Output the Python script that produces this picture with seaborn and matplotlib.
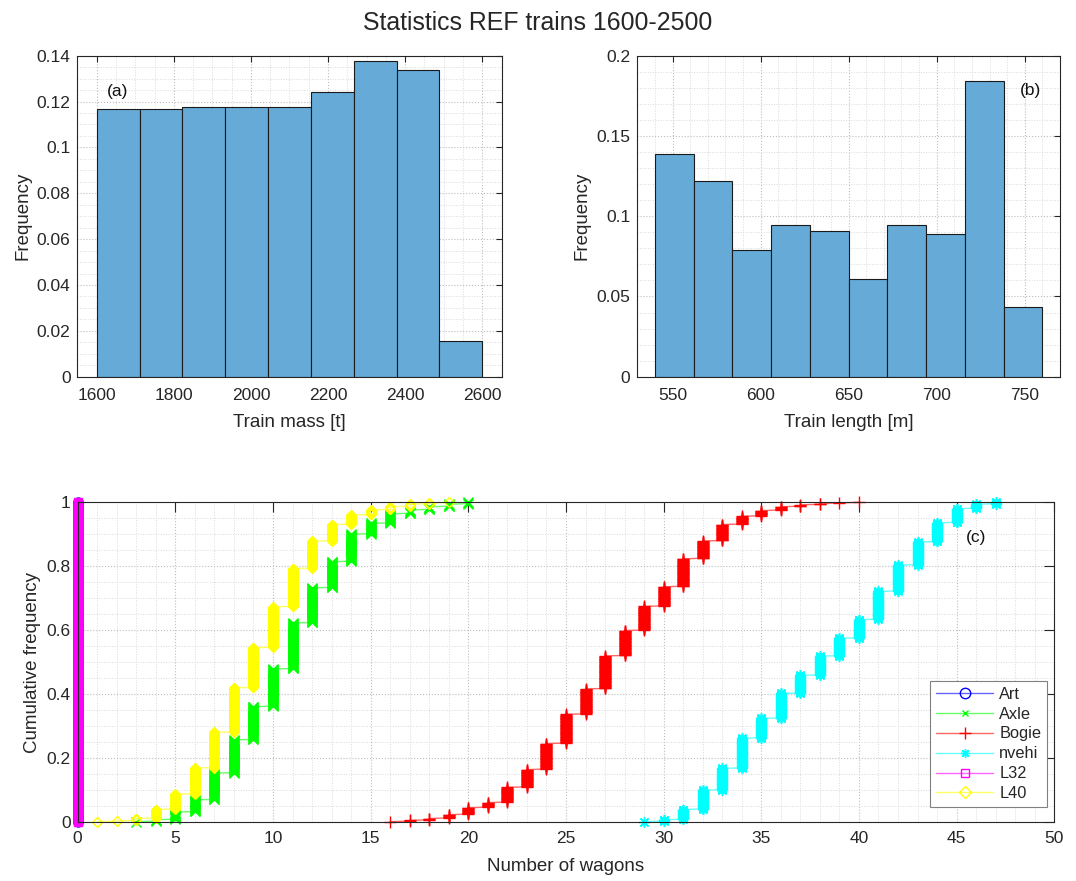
import numpy as np
import pandas as pd
import matplotlib
matplotlib.use("Agg")
import matplotlib.pyplot as plt
from matplotlib.lines import Line2D
from matplotlib.ticker import MultipleLocator, FormatStrFormatter
import seaborn as sns

# ---------------- data ----------------
# (a) train mass histogram: 9 equal bins between 1600 t and 2600 t
mass_edges = list(np.linspace(1600, 2600, 10))
mass_freq = [0.1167, 0.1167, 0.1175, 0.1175, 0.1175, 0.1240, 0.1375, 0.1336, 0.0156]

# (b) train length histogram: 10 bins of 22 m between 540 m and 760 m
length_edges = list(np.linspace(540, 760, 11))
length_freq = [0.1386, 0.1217, 0.0788, 0.0945, 0.0908, 0.0607, 0.0945, 0.0887, 0.1842, 0.0434]

# (c) cumulative frequency of the number of wagons per type
art_n = [0]
art_cdf = [1.0]

axle_n = list(range(3, 21))
axle_cdf = [0.002, 0.008, 0.033, 0.072, 0.156, 0.259, 0.363, 0.481, 0.624,
            0.734, 0.817, 0.903, 0.938, 0.967, 0.978, 0.987, 0.994, 1.0]

bogie_n = list(range(16, 41))
bogie_cdf = [0.002, 0.006, 0.0125, 0.024, 0.046, 0.061, 0.108, 0.163, 0.245,
             0.336, 0.417, 0.520, 0.600, 0.676, 0.738, 0.826, 0.882, 0.934,
             0.961, 0.978, 0.990, 0.995, 0.998, 0.999, 1.0]

nvehi_n = list(range(29, 48))
nvehi_cdf = [0.002, 0.009, 0.0415, 0.101, 0.169, 0.2625, 0.325, 0.403, 0.460,
             0.521, 0.578, 0.635, 0.723, 0.804, 0.877, 0.936, 0.981, 0.994, 1.0]

l32_n = [0]
l32_cdf = [1.0]

l40_n = list(range(1, 20))
l40_cdf = [0.002, 0.004, 0.012, 0.040, 0.088, 0.170, 0.283, 0.422, 0.547,
           0.674, 0.794, 0.880, 0.932, 0.963, 0.978, 0.988, 0.995, 0.998, 1.0]

n_trains = 500

series_names = ["Art", "Axle", "Bogie", "nvehi", "L32", "L40"]
series_data = [(art_n, art_cdf), (axle_n, axle_cdf), (bogie_n, bogie_cdf),
               (nvehi_n, nvehi_cdf), (l32_n, l32_cdf), (l40_n, l40_cdf)]


def ecdf_points(values, levels):
    """Expand cumulative levels into sorted observations and their ECDF."""
    counts = np.round(np.diff(np.concatenate([[0.0], levels])) * n_trains).astype(int)
    x = np.repeat(values, counts)
    y = np.arange(1, len(x) + 1) / len(x)
    return x, y


def lighten(hex_color, amount=0.4):
    rgb = np.array(matplotlib.colors.to_rgb(hex_color))
    return tuple(rgb + (1 - rgb) * amount)


# ---------------- style ----------------
sns.set_style("white")
plt.rcParams["font.family"] = ["Liberation Sans", "DejaVu Sans"]
dark = "#262626"
bar_face = "#66AAD7"

fig = plt.figure(figsize=(10.76, 8.81), dpi=100)
ax1 = fig.add_axes([0.0720, 0.5724, 0.3941, 0.3644])
ax2 = fig.add_axes([0.5923, 0.5724, 0.3928, 0.3644])
ax3 = fig.add_axes([0.0722, 0.0666, 0.9076, 0.3632])


def style_axes(ax, ticklen, xpad):
    ax.set_axisbelow(True)
    ax.grid(which="major", linestyle=":", color="#bdbdbd", linewidth=0.8)
    ax.grid(which="minor", linestyle=":", color="#dadada", linewidth=0.7)
    ax.tick_params(which="major", direction="in", top=True, right=True,
                   length=ticklen, width=0.8, color=dark, labelcolor=dark,
                   labelsize=12.5, pad=5)
    ax.tick_params(axis="x", which="major", pad=xpad)
    ax.tick_params(which="minor", length=0)
    for sp in ax.spines.values():
        sp.set_visible(True)
        sp.set_color(dark)
        sp.set_linewidth(0.8)
    ax.xaxis.set_major_formatter(FormatStrFormatter("%g"))
    ax.yaxis.set_major_formatter(FormatStrFormatter("%g"))


def draw_hist(ax, edges, freq):
    centers = [(a + b) / 2 for a, b in zip(edges[:-1], edges[1:])]
    df = pd.DataFrame({"center": centers, "freq": freq})
    sns.histplot(data=df, x="center", weights="freq", bins=edges, ax=ax,
                 color=bar_face, alpha=1, edgecolor="#1a1a1a", linewidth=0.8)


# (a) train mass
draw_hist(ax1, mass_edges, mass_freq)
ax1.set_xlim(1550, 2650)
ax1.set_ylim(0, 0.14)
ax1.xaxis.set_major_locator(MultipleLocator(200))
ax1.xaxis.set_minor_locator(MultipleLocator(50))
ax1.yaxis.set_major_locator(MultipleLocator(0.02))
ax1.yaxis.set_minor_locator(MultipleLocator(0.005))
style_axes(ax1, 4, 8)
ax1.set_xlabel("Train mass [t]", fontsize=13.5, color=dark, labelpad=8)
ax1.set_ylabel("Frequency", fontsize=13.5, color=dark)
ax1.text(1655, 0.1245, "(a)", fontsize=12.5, ha="center", va="center", color="#111111")

# (b) train length
draw_hist(ax2, length_edges, length_freq)
ax2.set_xlim(530, 770)
ax2.set_ylim(0, 0.2)
ax2.xaxis.set_major_locator(MultipleLocator(50))
ax2.xaxis.set_minor_locator(MultipleLocator(10))
ax2.yaxis.set_major_locator(MultipleLocator(0.05))
ax2.yaxis.set_minor_locator(MultipleLocator(0.01))
style_axes(ax2, 4, 8)
ax2.set_xlabel("Train length [m]", fontsize=13.5, color=dark, labelpad=8)
ax2.set_ylabel("Frequency", fontsize=13.5, color=dark)
ax2.text(753, 0.1785, "(b)", fontsize=12.5, ha="center", va="center", color="#111111")

# (c) cumulative frequency curves
colors = ["#0000ff", "#00ff00", "#ff0000", "#00ffff", "#ff00ff", "#ffff00"]
markers = ["o", "x", "+", (8, 2, 0), "s", "D"]
msizes = [6.5, 7, 8, 8, 6, 5.5]
legend_msizes = [7.5, 5, 8, 6.5, 5.5, 6.5]

handles = []
for name, (vals, levels), col, mk, ms, lms in zip(series_names, series_data, colors,
                                                   markers, msizes, legend_msizes):
    x, y = ecdf_points(vals, levels)
    sns.lineplot(x=x, y=y, ax=ax3, estimator=None, sort=False, legend=False,
                 color=lighten(col, 0.4), linewidth=1.0, marker=mk, markersize=ms,
                 markeredgecolor=col, markerfacecolor="none", markeredgewidth=1.0,
                 clip_on=False)
    handles.append(Line2D([], [], color=lighten(col, 0.4), linewidth=1.0, marker=mk,
                          markersize=lms, markeredgecolor=col,
                          markerfacecolor="none", markeredgewidth=1.0, label=name))

ax3.set_xlim(0, 50)
ax3.set_ylim(0, 1)
ax3.xaxis.set_major_locator(MultipleLocator(5))
ax3.xaxis.set_minor_locator(MultipleLocator(1))
ax3.yaxis.set_major_locator(MultipleLocator(0.2))
ax3.yaxis.set_minor_locator(MultipleLocator(0.05))
style_axes(ax3, 7, 6)
ax3.set_xlabel("Number of wagons", fontsize=13.5, color=dark, labelpad=9)
ax3.set_ylabel("Cumulative frequency", fontsize=13.5, color=dark)
ax3.text(46.0, 0.89, "(c)", fontsize=12.5, ha="center", va="center", color="#111111")

leg = ax3.legend(handles=handles, loc="lower right", bbox_to_anchor=(0.9925, 0.048),
                 borderaxespad=0, fontsize=11.8, frameon=True, fancybox=False,
                 framealpha=1, edgecolor="#808080", handlelength=3.5,
                 labelspacing=0.3, handletextpad=0.35, borderpad=0.35, numpoints=1)
leg.get_frame().set_linewidth(0.8)

fig.suptitle("Statistics REF trains 1600-2500", fontsize=17.9, color=dark, y=0.988)

fig.savefig("out.png", dpi=100, facecolor="white")
